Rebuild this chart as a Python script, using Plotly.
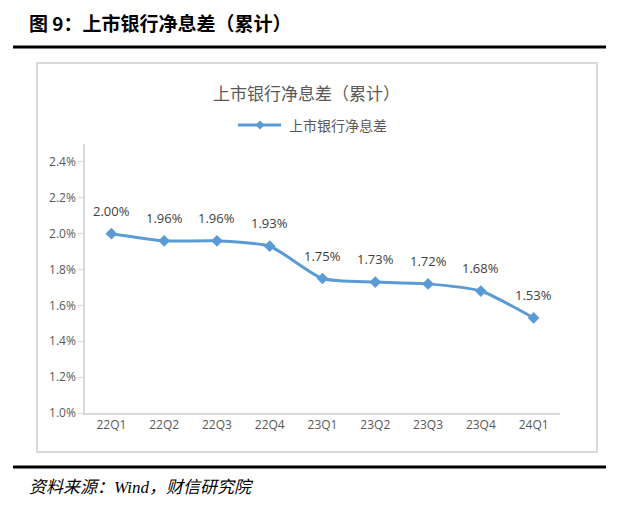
import plotly.graph_objects as go

categories = ["22Q1", "22Q2", "22Q3", "22Q4", "23Q1", "23Q2", "23Q3", "23Q4", "24Q1"]
nim_values = [2.00, 1.96, 1.96, 1.93, 1.75, 1.73, 1.72, 1.68, 1.53]
y_tick_vals = [1.0, 1.2, 1.4, 1.6, 1.8, 2.0, 2.2, 2.4]
y_tick_text = ["1.0%", "1.2%", "1.4%", "1.6%", "1.8%", "2.0%", "2.2%", "2.4%"]
series_name = "上市银行净息差"
chart_title = "上市银行净息差（累计）"
page_title = "图 9：上市银行净息差（累计）"
source_text = "资料来源：Wind，财信研究院"

blue = "#5B9BD5"
tick_font = dict(family="Open Sans, Liberation Sans, sans-serif", size=12, color="#595959")
cjk = "Noto Sans CJK SC"

# page has an 8px body margin; work in page pixel coordinates
O = 8
W, H = 618 - 2 * O, 510 - 2 * O
PL, PR, PT, PB = 85, 560, 144, 413  # plot area in page coords
L, T = PL - O, PT - O
R = W - (PR - O)
B = H - (PB - O)
pw, ph = W - L - R, H - T - B


def px(x):
    return (x - O - L) / pw


def py(y):
    return (H - (y - O) - B) / ph


fig = go.Figure()
fig.add_trace(go.Scatter(
    x=categories, y=nim_values, mode="lines+markers", name=series_name,
    line=dict(color=blue, width=3, shape="spline", smoothing=0.6),
    marker=dict(symbol="diamond", size=9, color=blue),
    showlegend=False,
))

for c, v in zip(categories, nim_values):
    fig.add_annotation(x=c, y=v, text=f"{v:.2f}%", showarrow=False, yshift=23,
                       font=dict(family="Open Sans, Liberation Sans, sans-serif", size=13, color="#404040"))

# legend drawn manually
fig.add_shape(type="line", xref="paper", yref="paper", x0=px(238), x1=px(281), y0=py(125), y1=py(125),
              line=dict(color=blue, width=3))
cx, cy, d = 260, 125, 4.5
diamond = (f"M {px(cx)} {py(cy - d)} L {px(cx + d)} {py(cy)} L {px(cx)} {py(cy + d)} "
           f"L {px(cx - d)} {py(cy)} Z")
fig.add_shape(type="path", xref="paper", yref="paper", path=diamond,
              fillcolor=blue, line=dict(color=blue, width=0))
fig.add_annotation(xref="paper", yref="paper", x=px(287), y=py(125), xanchor="left", yanchor="middle",
                   text=series_name, showarrow=False, font=dict(family=cjk, size=14, color="#595959"))

# chart title
fig.add_annotation(xref="paper", yref="paper", x=px(306), y=py(93), xanchor="center", yanchor="middle",
                   text=chart_title, showarrow=False, font=dict(family=cjk, size=17, color="#595959"))

# chart box
fig.add_shape(type="rect", xref="paper", yref="paper", x0=px(37), x1=px(597), y0=py(452), y1=py(63),
              line=dict(color="#D9D9D9", width=2), layer="below")

# page title and rules
fig.add_annotation(xref="paper", yref="paper", x=px(27), y=py(22), xanchor="left", yanchor="middle",
                   text="<b>" + page_title + "</b>", showarrow=False,
                   font=dict(family=cjk, size=19, color="#000000"))
fig.add_shape(type="line", xref="paper", yref="paper", x0=px(13), x1=px(606), y0=py(47), y1=py(47),
              line=dict(color="#000000", width=3))
fig.add_shape(type="line", xref="paper", yref="paper", x0=px(13), x1=px(606), y0=py(467), y1=py(467),
              line=dict(color="#000000", width=3))
fig.add_annotation(xref="paper", yref="paper", x=px(27), y=py(487), xanchor="left", yanchor="middle",
                   text="<i>" + source_text + "</i>", showarrow=False,
                   font=dict(family="Liberation Serif, " + cjk, size=17, color="#000000"))

fig.update_layout(
    width=W, height=H,
    margin=dict(l=L, r=R, t=T, b=B),
    paper_bgcolor="white", plot_bgcolor="white",
    xaxis=dict(type="category", showline=True, linecolor="#D9D9D9", linewidth=1.5,
               ticks="", tickfont=tick_font, showgrid=False, fixedrange=True,
               range=[-0.5, len(categories) - 0.5]),
    yaxis=dict(range=[1.0, 2.5], tickvals=y_tick_vals, ticktext=y_tick_text, showline=True,
               linecolor="#D9D9D9", linewidth=1.5, ticks="outside", tickcolor="#D9D9D9", ticklen=5,
               tickfont=tick_font, showgrid=False, zeroline=False),
    showlegend=False,
)

fig.write_html("out.html")
